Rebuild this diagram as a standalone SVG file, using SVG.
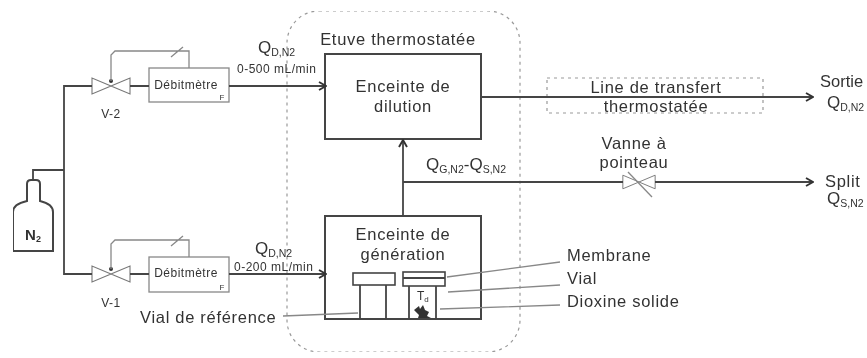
<svg xmlns="http://www.w3.org/2000/svg" width="867" height="358" viewBox="0 0 867 358">
<style>
text{font-family:"Liberation Sans",Arial,sans-serif;fill:#333;font-size:16.5px;letter-spacing:.7px}
.m{text-anchor:middle}
.s{font-size:12px;letter-spacing:.5px}
.d{font-size:12px;letter-spacing:.5px}
.f{font-size:8px;letter-spacing:0}
.q{font-size:17px;letter-spacing:0}
.sub{font-size:10.5px;letter-spacing:0}
.box{fill:#fff;stroke:#444;stroke-width:2}
.thin{fill:#fff;stroke:#888;stroke-width:1.3}
.ln{fill:none;stroke:#444;stroke-width:1.8}
.gr{fill:none;stroke:#888;stroke-width:1.3}
.dash{fill:none;stroke:#999;stroke-width:1.2;stroke-dasharray:3 4}
.valve{fill:#fff;stroke:#777;stroke-width:1.1}
.all{filter:url(#b)}
</style>
<defs>
<filter id="b" x="0" y="0" width="100%" height="100%"><feGaussianBlur stdDeviation="0.45"/></filter>
<marker id="a" markerWidth="9" markerHeight="10" refX="8" refY="5" orient="auto" markerUnits="userSpaceOnUse"><path d="M1 1L8 5L1 9" fill="none" stroke="#333" stroke-width="1.9"/></marker>
<path id="bowtie" class="valve" d="M-19-8V8L0 0ZM19-8V8L0 0Z"/>
</defs>
<g class="all">
<g id="etuve"><rect class="dash" x="287" y="11" width="233" height="341" rx="32"/><text x="398" y="45" class="m">Etuve thermostatée</text></g>
<g id="box-transfert"><rect class="dash" x="547" y="78" width="216" height="35"/></g>
<g id="bottle"><path class="box" d="M13 251V212Q13 204 27 201V184Q27 180 31 180H36Q40 180 40 184V201Q53 204 53 212V251Z" stroke-width="1.6"/><text x="33" y="240" class="m" style="font-size:15px;letter-spacing:0;font-weight:bold">N<tspan style="font-size:9px" dy="2">2</tspan></text></g>
<g id="v2"><use href="#bowtie" x="111" y="86"/><circle cx="111" cy="81" r="2" fill="#333"/><text x="111" y="118" class="m s">V-2</text></g>
<g id="v1"><use href="#bowtie" x="111" y="274"/><circle cx="111" cy="269" r="2" fill="#333"/><text x="111" y="307" class="m s">V-1</text></g>
<g id="deb2"><rect class="thin" x="149" y="68" width="80" height="34"/><text x="186" y="89" class="m d">Débitmètre</text><text x="222" y="100" class="m f">F</text></g>
<g id="deb1"><rect class="thin" x="149" y="257" width="80" height="35"/><text x="186" y="277" class="m d">Débitmètre</text><text x="222" y="290" class="m f">F</text></g>
<g id="dilution"><rect class="box" x="325" y="54" width="156" height="85"/><text x="403" y="92" class="m">Enceinte de</text><text x="403" y="112" class="m">dilution</text></g>
<g id="generation"><rect class="box" x="325" y="216" width="156" height="103"/><text x="403" y="240" class="m">Enceinte de</text><text x="403" y="260" class="m">génération</text>
<path class="ln" d="M360 285V319M386 285V319M409 286V319M436 286V319"/>
<rect x="353" y="273" width="42" height="12" fill="#fff" stroke="#444" stroke-width="1.6"/>
<rect x="403" y="272" width="42" height="14" fill="#fff" stroke="#444" stroke-width="1.6"/><path class="ln" d="M403 278H445"/>
<text x="417" y="300" style="font-size:12px;letter-spacing:0">T<tspan style="font-size:8px" dy="2">d</tspan></text>
<path d="M414 310L419 306L420 309L423 305L425 310L429 312L427 316L431 318H418L419 315Z" fill="#333"/>
</g>
<g id="pointeau"><use href="#bowtie" transform="translate(639 182) scale(.85)"/><path class="gr" d="M628 172L652 197"/></g>
<g id="connectors">
<path class="ln" d="M33 180V170H64M92 86H64V274H92"/>
<path class="ln" d="M130 86H149M130 274H149"/>
<path class="ln" marker-end="url(#a)" d="M229 86H326"/>
<path class="ln" marker-end="url(#a)" d="M229 274H326"/>
<path class="ln" marker-end="url(#a)" d="M403 216V140"/>
<path class="ln" marker-end="url(#a)" d="M403 182H623M655 182H813"/>
<path class="ln" marker-end="url(#a)" d="M481 97H813"/>
<path class="gr" d="M111 81V55L115 51H189V68M171 57L183 47"/>
<path class="gr" d="M111 269V244L115 240H189V257M171 246L183 236"/>
<path class="gr" d="M283 316L358 313M447 277L560 262M448 292L560 285M440 309L560 305"/>
</g>
<g id="labels">
<text x="258" y="53" class="q">Q<tspan class="sub" dy="3">D,N2</tspan></text>
<text x="237" y="73" class="s">0-500 mL/min</text>
<text x="255" y="254" class="q">Q<tspan class="sub" dy="3">D,N2</tspan></text>
<text x="234" y="271" class="s">0-200 mL/min</text>
<text x="426" y="170" class="q">Q<tspan class="sub" dy="3">G,N2</tspan><tspan dy="-3">-Q</tspan><tspan class="sub" dy="3">S,N2</tspan></text>
<text x="140" y="323">Vial de référence</text>
<text x="567" y="261">Membrane</text>
<text x="567" y="284">Vial</text>
<text x="567" y="307">Dioxine solide</text>
<text x="656" y="93" class="m">Line de transfert</text>
<text x="656" y="112" class="m">thermostatée</text>
<text x="634" y="149" class="m">Vanne à</text>
<text x="634" y="168" class="m">pointeau</text>
<text x="820" y="87" style="letter-spacing:0">Sortie</text>
<text x="827" y="108" class="q">Q<tspan class="sub" dy="3">D,N2</tspan></text>
<text x="825" y="187">Split</text>
<text x="827" y="204" class="q">Q<tspan class="sub" dy="3">S,N2</tspan></text>
</g>
</g>
</svg>
